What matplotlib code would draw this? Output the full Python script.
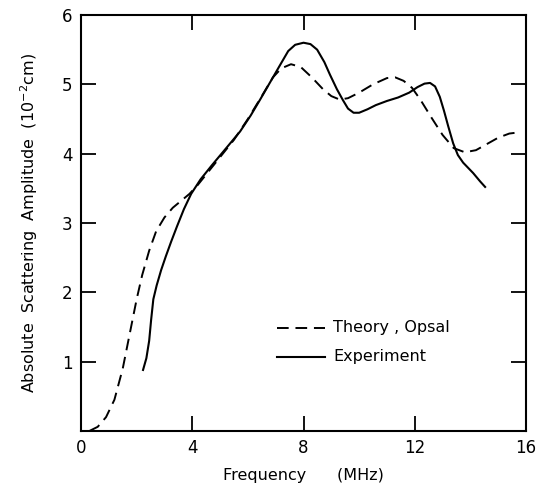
import matplotlib
matplotlib.use("Agg")
import matplotlib.pyplot as plt

# theory curve (Opsal)
theory_f = [0.3, 0.6, 0.9, 1.2, 1.5, 1.8, 2.0, 2.2, 2.45, 2.7, 3.0, 3.3, 3.6,
            3.9, 4.2, 4.6, 5.0, 5.5, 6.0, 6.5, 6.9, 7.2, 7.55, 7.9, 8.3, 8.7,
            9.0, 9.3, 9.6, 10.0, 10.5, 11.0, 11.3, 11.6, 11.9, 12.2, 12.6,
            13.0, 13.4, 13.8, 14.2, 14.6, 15.0, 15.4, 15.8]
theory_a = [0.0, 0.06, 0.2, 0.45, 0.9, 1.5, 1.9, 2.25, 2.6, 2.88, 3.08, 3.22,
            3.32, 3.42, 3.55, 3.75, 3.95, 4.2, 4.5, 4.83, 5.1, 5.23, 5.29,
            5.25, 5.1, 4.93, 4.83, 4.78, 4.80, 4.88, 5.0, 5.09, 5.1, 5.05,
            4.95, 4.78, 4.52, 4.27, 4.08, 4.02, 4.05, 4.14, 4.23, 4.29, 4.31]

# experiment curve
exp_f = [2.23, 2.35, 2.45, 2.52, 2.6, 2.72, 2.88, 3.05, 3.24, 3.45, 3.7, 3.96,
         4.3, 4.7, 5.2, 5.72, 6.1, 6.44, 6.8, 7.16, 7.45, 7.7, 8.0, 8.25,
         8.49, 8.75, 8.95, 9.2, 9.42, 9.6, 9.8, 10.0, 10.3, 10.6, 11.0, 11.4,
         11.8, 12.1, 12.35, 12.55, 12.73, 12.9, 13.05, 13.2, 13.38, 13.55,
         13.74, 14.1, 14.35, 14.53]
exp_a = [0.88, 1.05, 1.3, 1.6, 1.9, 2.1, 2.32, 2.52, 2.73, 2.95, 3.2, 3.42,
         3.63, 3.83, 4.07, 4.32, 4.55, 4.78, 5.03, 5.28, 5.48, 5.57, 5.60,
         5.58, 5.50, 5.32, 5.14, 4.93, 4.77, 4.65, 4.59, 4.59, 4.64, 4.70,
         4.76, 4.81, 4.88, 4.96, 5.01, 5.02, 4.97, 4.82, 4.62, 4.40, 4.15,
         3.98, 3.87, 3.72, 3.6, 3.52]

x_ticks = [0, 4, 8, 12, 16]
y_ticks = [1, 2, 3, 4, 5, 6]

fig = plt.figure(figsize=(5.38, 4.93), dpi=100)
ax = fig.add_axes([0.1506, 0.1258, 0.8271, 0.8438])

ax.plot(theory_f, theory_a, color="black", lw=1.4, dashes=(6, 3.5))
ax.plot(exp_f, exp_a, color="black", lw=1.5)

ax.set_xlim(0, 16)
ax.set_ylim(0, 6)
ax.set_xticks(x_ticks)
ax.set_yticks(y_ticks)
ax.tick_params(direction="in", length=11, width=1.3, labelsize=12,
               top=True, right=True, pad=6)
for s in ax.spines.values():
    s.set_linewidth(1.5)

ax.set_xlabel("Frequency      (MHz)", fontsize=11.5, labelpad=8)
ax.set_ylabel("Absolute  Scattering  Amplitude  (10$^{-2}$cm)", fontsize=11.5,
              labelpad=16)

# legend drawn by hand like the original
ax.plot([7.05, 8.77], [1.49, 1.49], color="black", lw=1.4, dashes=(6, 3.5))
ax.plot([7.05, 8.77], [1.07, 1.07], color="black", lw=1.5)
ax.text(9.06, 1.49, "Theory , Opsal", fontsize=11.5, va="center")
ax.text(9.06, 1.07, "Experiment", fontsize=11.5, va="center")

fig.savefig("out.png", dpi=100)
